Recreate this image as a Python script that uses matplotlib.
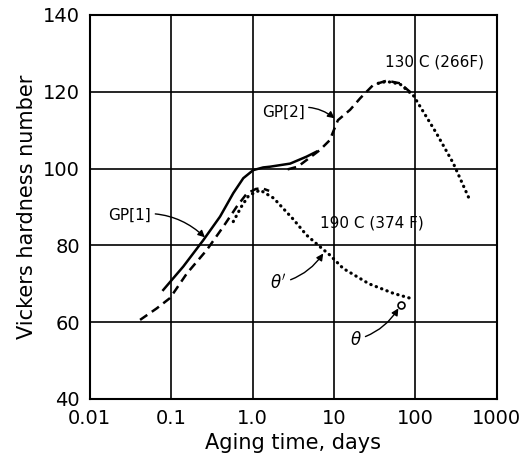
import matplotlib
matplotlib.use("Agg")
import matplotlib.pyplot as plt

# 130 C (266 F) curve
gp1_130_days = [0.08, 0.141, 0.249, 0.399, 0.58, 0.77, 1.02, 1.35, 1.65, 2.9, 4.6, 6.1]
gp1_130_hv = [68.4, 74.5, 81.4, 87.5, 93.6, 97.5, 99.6, 100.3, 100.5, 101.3, 103.1, 104.4]
gp2_130_days = [2.7, 3.6, 4.6, 6.7, 8.9, 9.8, 11.2, 15.8, 21, 30.5, 44.5, 65, 95]
gp2_130_hv = [99.8, 100.5, 102.2, 104.8, 107.4, 109.6, 112.6, 115.3, 118.3, 121.8, 122.9, 122.2, 119.2]
tp_130_days = [35, 44.5, 65, 95, 182, 293, 468]
tp_130_hv = [122.2, 122.7, 122.0, 119.0, 109.2, 101.4, 91.8]

# 190 C (374 F) curve
gp_190_days = [0.0415, 0.0665, 0.097, 0.156, 0.274, 0.438, 0.64, 0.85, 1.1, 1.3, 1.6]
gp_190_hv = [60.6, 63.6, 66.3, 72.7, 78.8, 84.9, 90.1, 93.5, 94.7, 94.9, 94.2]
tp_190_days = [0.58, 0.73, 0.9, 1.24, 1.82, 2.41, 3.17, 4.6, 6.7, 8.9, 13, 27, 54, 95]
tp_190_hv = [86.2, 90.1, 93.0, 94.4, 92.3, 89.5, 86.8, 82.7, 79.7, 77.5, 74.0, 70.0, 67.5, 66.0]
theta_day, theta_hv = 66, 64.5

xticks = [0.01, 0.1, 1.0, 10, 100, 1000]
xtick_labels = ["0.01", "0.1", "1.0", "10", "100", "1000"]
yticks = [40, 60, 80, 100, 120, 140]

plt.rcParams["font.family"] = "DejaVu Sans"
fig = plt.figure(figsize=(5.25, 4.61), dpi=100)
ax = fig.add_axes([0.171, 0.1345, 0.775, 0.833])

ax.set_xscale("log")
ax.set_xlim(0.01, 1000)
ax.set_ylim(40, 140)
ax.set_xticks(xticks)
ax.set_xticklabels(xtick_labels)
ax.minorticks_off()
ax.set_yticks(yticks)
ax.tick_params(length=0, labelsize=14, pad=7)
ax.grid(True, color="black", lw=1.2)
for s in ax.spines.values():
    s.set_linewidth(1.5)

dot = dict(color="black", lw=2.3, linestyle=(0, (0.1, 1.7)), dash_capstyle="round")
dash = dict(color="black", lw=1.8, linestyle=(0, (3.5, 2.2)))

ax.plot(gp1_130_days, gp1_130_hv, color="black", lw=1.8)
ax.plot(gp2_130_days, gp2_130_hv, **dash)
ax.plot(tp_130_days, tp_130_hv, **dot)
ax.plot(gp_190_days, gp_190_hv, **dash)
ax.plot(tp_190_days, tp_190_hv, **dot)
ax.plot([theta_day], [theta_hv], "o", mfc="white", mec="black", ms=5, mew=1.2)

arrow = dict(arrowstyle="-|>", color="black", lw=1.0, mutation_scale=10, shrinkA=1, shrinkB=0)
ax.annotate("GP[1]", xy=(0.26, 82.1), xytext=(0.031, 87.9), ha="center", va="center", fontsize=11,
            arrowprops=dict(connectionstyle="arc3,rad=-0.25", **arrow))
ax.annotate("GP[2]", xy=(10.2, 113.1), xytext=(2.38, 114.7), ha="center", va="center", fontsize=11,
            arrowprops=dict(connectionstyle="arc3,rad=-0.3", **arrow))
ax.annotate(r"$\theta'$", xy=(7.4, 77.9), xytext=(2.07, 70.1), ha="center", va="center", fontsize=12,
            arrowprops=dict(connectionstyle="arc3,rad=0.2", **arrow))
ax.annotate(r"$\theta$", xy=(62, 63.6), xytext=(18.4, 55.4), ha="center", va="center", fontsize=12,
            arrowprops=dict(connectionstyle="arc3,rad=0.2", **arrow))
ax.text(42.5, 127.8, "130 C (266F)", fontsize=11, ha="left", va="center")
ax.text(6.76, 85.9, "190 C (374 F)", fontsize=11, ha="left", va="center")

ax.set_xlabel("Aging time, days", fontsize=15, labelpad=4)
ax.set_ylabel("Vickers hardness number", fontsize=15, labelpad=4)

fig.savefig("out.png", dpi=100)
